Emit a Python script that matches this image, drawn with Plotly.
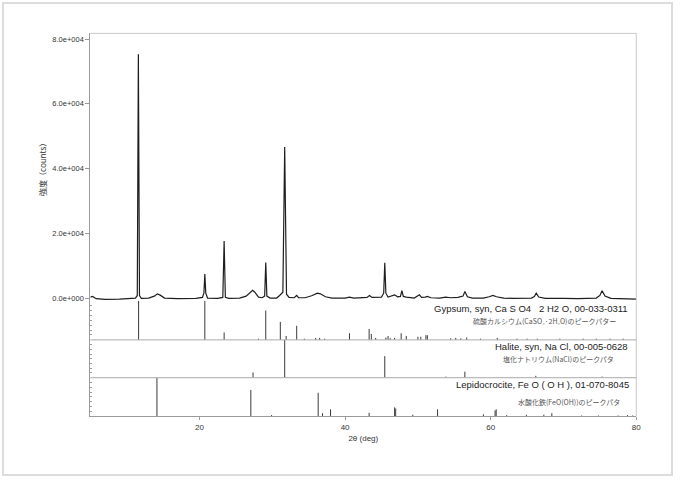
import plotly.graph_objects as go

# ---------------- data ----------------
# measured pattern (2theta [deg], intensity [counts]) read from the picture
two_theta = [5.0, 5.3, 5.8, 7.0, 9.0, 10.5, 11.2, 11.45, 11.6, 11.75, 12.0, 13.0, 13.8, 14.2, 14.6, 15.2,
             17.0, 19.5, 20.4, 20.6, 20.73, 20.86, 21.1, 22.5, 23.2, 23.38, 23.55, 24.0, 25.5, 26.4,
             27.0, 27.3, 27.6, 28.1, 28.6, 28.95, 29.1, 29.25, 29.7, 30.6, 31.0, 31.2, 31.45, 31.7,
             31.95, 32.3, 33.0, 33.35, 33.6, 34.5, 35.4, 36.2, 36.6, 37.3, 38.2, 40.0, 40.6, 41.2,
             43.0, 43.35, 43.7, 45.0, 45.3, 45.45, 45.6, 45.9, 46.4, 46.8, 47.2, 47.6, 47.8, 48.0,
             48.4, 49.5, 50.2, 50.5, 51.0, 51.3, 51.8, 53.0, 53.8, 54.5, 55.5, 56.2, 56.45, 56.8,
             57.5, 59.0, 59.8, 60.3, 60.8, 61.8, 63.0, 65.6, 66.0, 66.25, 66.6, 67.5, 70.0, 72.0,
             74.5, 75.0, 75.3, 75.7, 76.5, 78.0, 80.0]
counts = [300, 500, -200, -400, -300, -200, 0, 800, 75300, 800, -100, 0, 600, 1300, 900, 0,
          -200, -100, 200, 1500, 7450, 1500, 0, -100, 200, 17650, 200, -100, 0, 600,
          1800, 2400, 1800, 300, 100, 600, 11000, 600, 0, 0, 800, 1200, 1800, 46700,
          1200, 200, 100, 800, 100, 100, 700, 1500, 1300, 400, 0, 0, 300, 0,
          200, 800, 200, 300, 1500, 10900, 1500, 300, 600, 1000, 400, 500, 2300, 500,
          300, 0, 1000, 200, 300, 500, 100, 0, 300, 100, 200, 600, 2000, 400,
          0, 0, 400, 800, 400, 0, -100, 0, 500, 1500, 300, -100, -100, -200,
          0, 800, 2250, 600, -100, -200, -300]

# reference stick patterns (2theta, relative intensity %)
gypsum_pos = [11.63, 20.73, 23.38, 28.1, 29.1, 31.1, 31.9, 33.35, 34.4, 35.95, 36.5, 37.2, 40.6,
              43.3, 43.6, 44.2, 45.6, 45.9, 46.2, 46.8, 47.7, 48.4, 50.0, 50.4, 51.1, 51.3, 54.5,
              55.2, 55.9, 56.7, 58.6, 60.9, 63.6, 65.0, 66.4, 69.5, 72.7, 74.5, 76.4, 78.2]
gypsum_int = [100, 100, 19, 3, 75, 46, 10, 36, 3, 5, 5, 3, 17,
              28, 15, 5, 6, 10, 4, 5, 17, 10, 8, 8, 12, 12, 4,
              5, 4, 6, 3, 5, 3, 3, 3, 3, 3, 3, 3, 3]
halite_pos = [27.35, 31.7, 45.45, 53.85, 56.45, 66.2, 75.3]
halite_int = [14, 100, 57, 3, 16, 5, 3]
lepido_pos = [14.15, 27.05, 29.9, 36.3, 36.9, 38.0, 43.3, 46.8, 46.95, 49.3, 52.7, 59.0, 60.6,
              60.75, 62.2, 64.9, 67.3, 68.4, 72.5, 74.8, 77.5, 78.8, 79.5]
lepido_int = [100, 68, 3, 61, 8, 18, 9, 23, 20, 4, 18, 5, 15,
              18, 3, 4, 4, 8, 2, 2, 2, 3, 2]

y_tick_vals = [0, 20000, 40000, 60000, 80000]
y_tick_text = ["0.0e+000", "2.0e+004", "4.0e+004", "6.0e+004", "8.0e+004"]
x_tick_vals = [20, 40, 60, 80]

phase_titles = ["Gypsum, syn, Ca S O4   2 H2 O, 00-033-0311",
                "Halite, syn, Na Cl, 00-005-0628",
                "Lepidocrocite, Fe O ( O H ), 01-070-8045"]
phase_notes = ["硫酸カルシウム(CaSO₄·2H₂O)のピークパター",
               "塩化ナトリウム(NaCl)のピークパタ",
               "水酸化鉄(FeO(OH))のピークパタ"]

# ---------------- layout helpers ----------------
W, H = 680, 480
def px(x):
    return x / W
def py(y):
    return 1 - y / H

X0, X1 = 91.0, 641.0
Y_TOP, Y_MAIN_BOT, Y_G_BOT, Y_H_BOT, Y_L_BOT = 33.5, 302.0, 341.3, 379.3, 418.0

def sticks(pos, inten):
    xs, ys = [], []
    for p, v in zip(pos, inten):
        xs += [p, p, None]
        ys += [0, v, None]
    return xs, ys

fig = go.Figure()
fig.add_trace(go.Scatter(x=two_theta, y=counts, mode="lines",
                         line=dict(color="#1e1e1e", width=1.2), xaxis="x", yaxis="y",
                         hoverinfo="skip", showlegend=False))
for (pos, inten), ya in zip([(gypsum_pos, gypsum_int), (halite_pos, halite_int),
                              (lepido_pos, lepido_int)], ["y2", "y3", "y4"]):
    xs, ys = sticks(pos, inten)
    fig.add_trace(go.Scatter(x=xs, y=ys, mode="lines",
                             line=dict(color="#3a3a3a", width=1), xaxis="x", yaxis=ya,
                             hoverinfo="skip", showlegend=False))

axis_col = "#9a9a9a"
base_font = "Liberation Sans, Arial, sans-serif"
tick_font = dict(family=base_font, size=7.5, color="#333333")

sub_axis = dict(range=[0, 100], showline=True, linecolor=axis_col, linewidth=1,
                ticks="inside", ticklen=2, tickcolor=axis_col, dtick=12.5,
                showticklabels=False, showgrid=False, zeroline=False, anchor="x",
                fixedrange=True)

fig.update_layout(
    width=W, height=H, margin=dict(l=0, r=0, t=0, b=0),
    paper_bgcolor="white", plot_bgcolor="white",
    xaxis=dict(domain=[px(X0), px(X1)], range=[5, 80], anchor="y4",
               showline=True, linecolor=axis_col, linewidth=1,
               ticks="outside", ticklen=3, tickcolor=axis_col,
               tickvals=x_tick_vals, tickfont=dict(family=base_font, size=8, color="#333333"),
               showgrid=False, zeroline=False,
               title=dict(text="2θ (deg)", font=dict(family=base_font, size=8, color="#333333"),
                          standoff=4)),
    yaxis=dict(domain=[py(Y_MAIN_BOT), py(Y_TOP)], range=[-830, 81780], anchor="x",
               showline=True, linecolor=axis_col, linewidth=1,
               ticks="outside", ticklen=4, tickcolor=axis_col,
               tickvals=y_tick_vals, ticktext=y_tick_text, tickfont=tick_font,
               showgrid=False, zeroline=False),
    yaxis2=dict(domain=[py(Y_G_BOT), py(Y_MAIN_BOT)], **sub_axis),
    yaxis3=dict(domain=[py(Y_H_BOT), py(Y_G_BOT)], **sub_axis),
    yaxis4=dict(domain=[py(Y_L_BOT), py(Y_H_BOT)], **sub_axis),
)

shapes = [
    # outer frame
    dict(type="rect", xref="paper", yref="paper", x0=px(3), x1=px(677), y0=py(477), y1=py(3),
         line=dict(color="#dcdcdc", width=2)),
    # top & right borders of plot area
    dict(type="line", xref="paper", yref="paper", x0=px(X0), x1=px(X1), y0=py(Y_TOP), y1=py(Y_TOP),
         line=dict(color="#c8c8c8", width=1)),
    dict(type="line", xref="paper", yref="paper", x0=px(X1), x1=px(X1), y0=py(Y_L_BOT), y1=py(Y_TOP),
         line=dict(color="#c8c8c8", width=1)),
    # separators between stick panels
    dict(type="line", xref="paper", yref="paper", x0=px(X0), x1=px(X1), y0=py(Y_G_BOT), y1=py(Y_G_BOT),
         line=dict(color="#aaaaaa", width=1)),
    dict(type="line", xref="paper", yref="paper", x0=px(X0), x1=px(X1), y0=py(Y_H_BOT), y1=py(Y_H_BOT),
         line=dict(color="#aaaaaa", width=1)),
]
fig.update_layout(shapes=shapes)

annotations = [
    dict(text="強度（counts）", xref="paper", yref="paper", x=px(43), y=py(168), textangle=-90,
         showarrow=False, font=dict(family="Noto Sans CJK JP", size=8, color="#333333"),
         xanchor="center", yanchor="middle"),
]
title_y = [309.5, 347.5, 386.0]
note_y = [322.7, 361.0, 404.0]
title_x = [634.5, 635.0, 636.0]
note_x = [623.0, 621.0, 627.0]
for t, n, ty, ny, tx, nx in zip(phase_titles, phase_notes, title_y, note_y, title_x, note_x):
    annotations.append(dict(text=t, xref="paper", yref="paper", x=px(tx), y=py(ty),
                            xanchor="right", yanchor="middle", showarrow=False,
                            font=dict(family=base_font, size=9.5, color="#222222")))
    annotations.append(dict(text=n, xref="paper", yref="paper", x=px(nx), y=py(ny),
                            xanchor="right", yanchor="middle", showarrow=False,
                            font=dict(family="Noto Sans CJK JP", size=7, color="#555555")))
fig.update_layout(annotations=annotations)

fig.write_html("out.html", config={"displayModeBar": False},
               post_script="document.body.style.margin='0';document.body.style.overflow='hidden';")
